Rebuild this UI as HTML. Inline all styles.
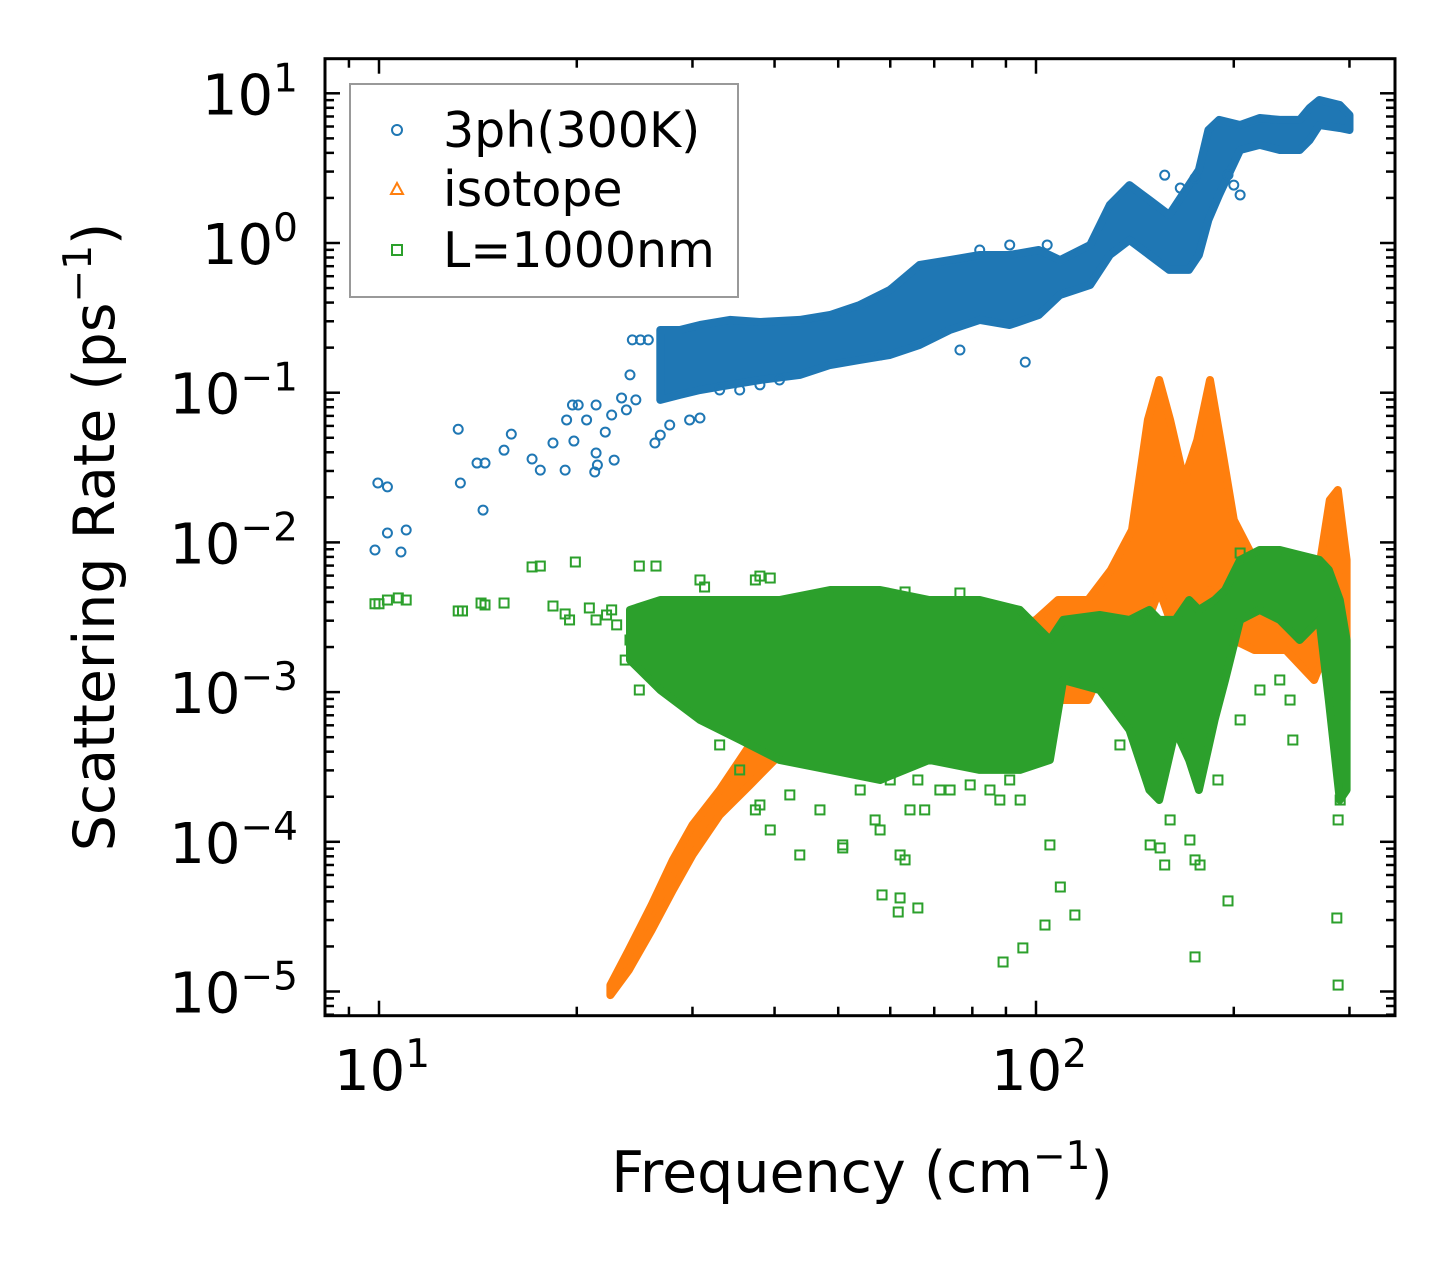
<!DOCTYPE html>
<html><head><meta charset="utf-8"><style>
body{margin:0;background:#fff;}
svg{display:block;font-family:"DejaVu Sans","Liberation Sans",sans-serif;}
</style></head><body>
<svg id="chart" width="1455" height="1265" viewBox="0 0 1455 1265" xmlns="http://www.w3.org/2000/svg">
<rect width="1455" height="1265" fill="#fff"/>
<g id="plot"></g>
<g id="axes"></g>
<text x="862" y="1192" font-size="57" text-anchor="middle">Frequency (cm<tspan font-size="39" dy="-23">−1</tspan><tspan dy="23">)</tspan></text>
<text transform="translate(114,537) rotate(-90)" font-size="57" text-anchor="middle">Scattering Rate (ps<tspan font-size="39" dy="-23">−1</tspan><tspan dy="23">)</tspan></text>
<g>
<rect x="350" y="84" width="388" height="213" fill="#fff" stroke="#999" stroke-width="2"/>
<circle cx="397" cy="130" r="5" fill="none" stroke="#1f77b4" stroke-width="2"/>
<text x="443" y="147" font-size="49">3ph(300K)</text>
<polygon points="397,183 403,194 391,194" fill="none" stroke="#ff7f0e" stroke-width="2"/>
<text x="443" y="206" font-size="49">isotope</text>
<rect x="392" y="245" width="10" height="10" fill="none" stroke="#2ca02c" stroke-width="2"/>
<text x="443" y="267" font-size="49">L=1000nm</text>
</g>
</svg>
<script>
// ---- data (frequency in cm^-1, rate as log10 exponent) ----
const blueBandFreq=[26.8,28.7,30.8,34.2,38.0,43.7,48.6,53.9,59.9,66.5,73.9,82.1,91.2,101,108.8,120.9,129.5,138.8,148.8,159.5,170.9,177,183,190,204.5,219,235,252,261,270,290,300];
const blueBandHi=[-0.581,-0.581,-0.548,-0.514,-0.528,-0.514,-0.481,-0.414,-0.314,-0.147,-0.114,-0.080,-0.080,-0.047,-0.114,-0.013,0.254,0.387,0.287,0.187,0.387,0.488,0.755,0.822,0.788,0.835,0.822,0.822,0.902,0.955,0.922,0.855];
const blueBandLo=[-1.048,-1.015,-0.982,-0.948,-0.915,-0.881,-0.815,-0.781,-0.748,-0.681,-0.581,-0.514,-0.548,-0.481,-0.347,-0.280,-0.080,0.020,-0.080,-0.180,-0.180,-0.080,0.154,0.321,0.621,0.655,0.621,0.621,0.688,0.788,0.768,0.755];
const bluePtFreq=[9.86,9.96,10.3,10.3,10.8,11.0,13.2,13.3,14.1,14.5,14.4,15.5,15.9,17.1,17.6,18.4,19.2,19.3,19.7,20.1,19.8,20.7,21.4,21.5,21.3,21.4,22.1,22.6,22.8,23.4,24.1,23.8,24.6,24.3,25.0,25.7,26.3,26.8,27.7,29.7,30.8,33.0,35.4,38.0,40.7,82.1,91.2,104,157,165.8,174.6,204.5,196,200,96.3,76.6,57.9];
const bluePtLog=[-2.051,-1.603,-1.629,-1.937,-2.064,-1.917,-1.244,-1.603,-1.470,-1.470,-1.784,-1.384,-1.277,-1.443,-1.517,-1.336,-1.517,-1.182,-1.082,-1.082,-1.323,-1.182,-1.403,-1.483,-1.530,-1.082,-1.263,-1.149,-1.450,-1.035,-0.881,-1.115,-1.048,-0.647,-0.647,-0.647,-1.336,-1.283,-1.216,-1.182,-1.169,-0.982,-0.982,-0.948,-0.915,-0.047,-0.013,-0.013,0.453,0.367,0.433,0.321,0.455,0.387,-0.796,-0.715,-0.748];
const orangeBandFreq=[22.5,24,26,28,30,33,36.7,40,45,60,80,100,108,120,130,140,148,154,160,168,176,184,192,200,215,240,265,280,288,297];
const orangeBandHi=[-4.957,-4.723,-4.423,-4.122,-3.888,-3.654,-3.353,-3.186,-2.652,-2.652,-2.652,-2.518,-2.385,-2.385,-2.184,-1.917,-1.182,-0.915,-1.182,-1.583,-1.316,-0.915,-1.382,-1.850,-2.117,-2.184,-2.385,-1.717,-1.650,-2.117];
const orangeBandLo=[-5.024,-4.857,-4.590,-4.323,-4.088,-3.821,-3.620,-3.453,-3.350,-3.300,-3.300,-3.350,-3.053,-3.053,-2.719,-2.652,-2.518,-2.318,-2.518,-2.652,-2.518,-2.318,-2.518,-2.652,-2.719,-2.719,-2.919,-2.652,-2.652,-3.053];
const greenBandFreq=[24.1,26.8,30.8,35.5,40.7,48.6,57.9,68.8,82.1,94.5,105,110,125,138.8,148.8,154,163,171,177,187,194,204.5,219,235,252,270,279,290,297];
const greenBandHi=[-2.451,-2.385,-2.385,-2.385,-2.385,-2.318,-2.318,-2.385,-2.385,-2.451,-2.652,-2.518,-2.485,-2.518,-2.451,-2.518,-2.518,-2.385,-2.451,-2.385,-2.318,-2.117,-2.051,-2.051,-2.084,-2.117,-2.184,-2.385,-2.652];
const greenBandLo=[-2.786,-2.986,-3.186,-3.320,-3.453,-3.520,-3.587,-3.453,-3.520,-3.520,-3.453,-2.919,-2.986,-3.253,-3.654,-3.721,-3.253,-3.453,-3.654,-3.186,-2.919,-2.518,-2.451,-2.518,-2.652,-2.518,-3.053,-3.721,-3.654];
const greenPtFreq=[9.86,10.0,10.3,10.7,11.0,13.2,13.4,14.3,14.5,15.5,17.1,17.6,19.9,18.4,19.2,19.5,20.9,21.4,22.2,22.6,23.0,24.9,26.4,30.8,31.3,24.1,23.7,24.9,31.3,33.0,35.4,37.4,38.0,39.4,42.2,43.7,46.9,50.8,50.8,54.0,56.9,57.9,60.0,62.1,63.2,64.3,66.1,67.7,71.4,74.0,79.4,85.1,88.1,91.2,94.6,105,58.3,62.1,61.7,66.1,89.1,95.5,103.2,108.9,114.6,134.2,149.2,154.5,157,160,171.5,174.6,177.7,196,174.6,189.2,204.5,219.2,235,243.6,246,287,288.3,288.3,290.4,37.4,38.0,39.4,48.6,63.2,76.6,204.5];
const greenPtLog=[-2.410,-2.410,-2.385,-2.371,-2.385,-2.458,-2.458,-2.405,-2.418,-2.405,-2.164,-2.158,-2.131,-2.425,-2.478,-2.518,-2.438,-2.518,-2.485,-2.451,-2.551,-2.158,-2.158,-2.251,-2.298,-2.652,-2.786,-2.986,-3.086,-3.353,-3.520,-3.787,-3.754,-3.921,-3.687,-4.088,-3.787,-4.021,-4.041,-3.654,-3.854,-3.921,-3.587,-4.088,-4.121,-3.787,-3.587,-3.787,-3.654,-3.654,-3.620,-3.654,-3.721,-3.587,-3.721,-4.021,-4.355,-4.375,-4.469,-4.442,-4.803,-4.709,-4.556,-4.302,-4.489,-3.353,-4.021,-4.041,-4.155,-3.854,-3.988,-4.121,-4.155,-4.395,-4.769,-3.587,-3.186,-2.986,-2.919,-3.053,-3.320,-4.509,-4.957,-3.854,-3.721,-2.251,-2.225,-2.238,-2.358,-2.331,-2.338,-2.071];
const xTickVals=[10,100];
const xTickLabels=['1','2'];
const yTickVals=[1,0,-1,-2,-3,-4,-5];
const yTickLabels=['1','0','−1','−2','−3','−4','−5'];

// ---- scales ----
const L=325,R=1395,T=58.7,B=1015.7;
const X0=379, XD=657, Y0=93.3, YD=149.7;
function sx(f){return X0+(Math.log10(f)-1)*XD;}
function sy(lg){return Y0+(1-lg)*YD;}
const NS='http://www.w3.org/2000/svg';
function mk(tag,attrs,parent){const e=document.createElementNS(NS,tag);for(const k in attrs)e.setAttribute(k,attrs[k]);parent.appendChild(e);return e;}
const plot=document.getElementById('plot');
const axes=document.getElementById('axes');
mk('clipPath',{id:'clip'},plot);
mk('rect',{x:L,y:T,width:R-L,height:B-T},document.getElementById('clip'));
const pg=mk('g',{'clip-path':'url(#clip)'},plot);

function band(fr,hi,lo,color,name){
  let d='';
  for(let i=0;i<fr.length;i++)d+=(i?'L':'M')+sx(fr[i]).toFixed(1)+','+sy(hi[i]).toFixed(1);
  for(let i=fr.length-1;i>=0;i--)d+='L'+sx(fr[i]).toFixed(1)+','+sy(lo[i]).toFixed(1);
  const p=mk('path',{d:d+'Z',fill:color,stroke:color,'stroke-width':8,'stroke-linejoin':'round'},pg);
  
  
}
function circles(fr,lg,name){
  for(let i=0;i<fr.length;i++){
    const c=mk('circle',{cx:sx(fr[i]),cy:sy(lg[i]),r:4.5,fill:'none',stroke:'#1f77b4','stroke-width':2},pg);
    
    
  }
}
function squares(fr,lg,name){
  for(let i=0;i<fr.length;i++){
    const s=mk('rect',{x:sx(fr[i])-4.5,y:sy(lg[i])-4.5,width:9,height:9,fill:'none',stroke:'#2ca02c','stroke-width':2},pg);
    
    
  }
}
band(blueBandFreq,blueBandHi,blueBandLo,'#1f77b4','3ph-dense-cloud');
circles(bluePtFreq,bluePtLog,'3ph-point');
band(orangeBandFreq,orangeBandHi,orangeBandLo,'#ff7f0e','isotope-cloud');
band(greenBandFreq,greenBandHi,greenBandLo,'#2ca02c','boundary-dense-cloud');
squares(greenPtFreq,greenPtLog,'boundary-point');

// ---- axes ----
const frame=mk('rect',{x:L,y:T,width:R-L,height:B-T,fill:'none',stroke:'#000','stroke-width':3},axes);


function line(x1,y1,x2,y2,w){mk('line',{x1,y1,x2,y2,stroke:'#000','stroke-width':w||2.5},axes);}
for(let dec=0;dec<=2;dec++){
  for(let m=1;m<=9;m++){
    const f=m*Math.pow(10,dec);const x=sx(f);
    if(x<L+1||x>R-1)continue;
    const len=m===1?15:9;
    line(x,B,x,B-len);line(x,T,x,T+len);
  }
}
xTickVals.forEach((v,i)=>{
  const t=mk('text',{x:sx(v)+3,y:1090,'font-size':56,'text-anchor':'middle'},axes);
  
  
  t.innerHTML='10<tspan font-size="39" dy="-23">'+xTickLabels[i]+'</tspan>';
});
for(let e=-6;e<=1;e++){
  for(let m=1;m<=9;m++){
    const lg=e+Math.log10(m);const y=sy(lg);
    if(y<T+1||y>B-1)continue;
    const len=m===1?15:9;
    line(L,y,L+len,y);line(R,y,R-len,y);
  }
}
yTickVals.forEach((v,i)=>{
  const t=mk('text',{x:298,y:sy(v)+21,'font-size':56,'text-anchor':'end'},axes);
  
  
  t.innerHTML='10<tspan font-size="39" dy="-23">'+yTickLabels[i]+'</tspan>';
});
</script>
</body></html>
